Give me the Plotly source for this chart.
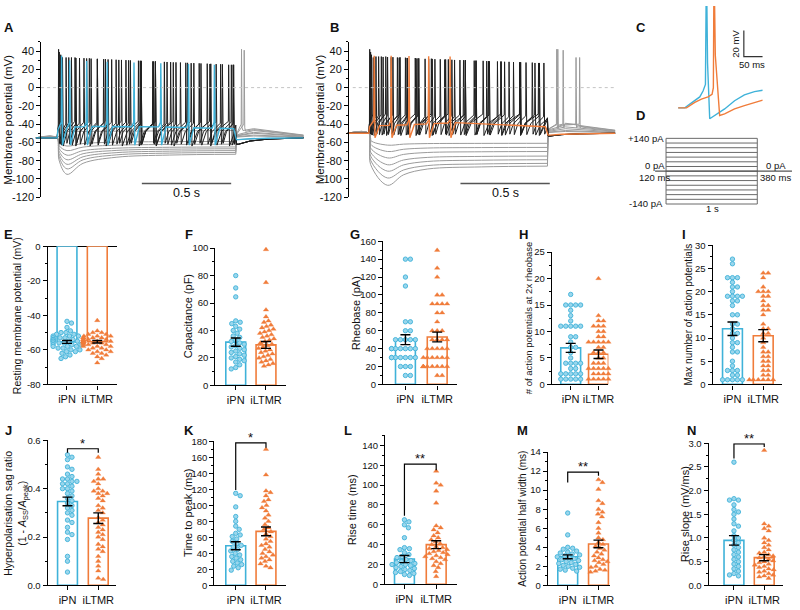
import numpy as np
import plotly.graph_objects as go

W, H = 800, 610
FONT = "Liberation Sans, Arial, Helvetica, sans-serif"
BLUE = "#3fb2d9"
BLUE_FILL = "#9ad6ec"
ORANGE = "#f07c3a"
GRAY = "#9b9b9b"
DARK = "#1f1f1f"
GROUPS = ["iPN", "iLTMR"]

# ---------------- A: iPN example traces ----------------
A_BASE = -55.0
A_HYP_MIN = [-95, -89, -84, -79, -74, -69, -64]
A_HYP_END = [-73, -71, -69, -67, -65, -62, -59]
A_HYP_HUMP = [10, 9, 8, 6, 5, 3, 2]
A_HYP_TMIN = 0.175
A_REBOUND_T = [[1.152], [1.167], [], [], [], [], []]
A_REBOUND_PK = [[42], [41], [], [], [], [], []]
A_TRAINS = [
    [0.128, 0.17, 0.225, 0.285, 0.345, 0.405, 0.465, 0.53, 0.59, 0.655, 0.72, 0.785, 0.85, 0.915, 0.98, 1.045, 1.105],
    [0.132, 0.185, 0.245, 0.31, 0.38, 0.45, 0.52, 0.59, 0.66, 0.735, 0.81, 0.885, 0.96, 1.035, 1.108],
    [0.14, 0.2, 0.27, 0.345, 0.425, 0.505, 0.585, 0.67, 0.755, 0.84, 0.925, 1.01, 1.095],
    [0.15, 0.22, 0.3, 0.39, 0.48, 0.575, 0.67, 0.77, 0.87, 0.975, 1.08],
]
A_BLUE = [0.145, 0.19, 0.285, 0.40, 0.55, 0.70, 0.855, 1.0]
A_BLUE_PLAT_T = [0.12, 0.3, 0.7, 1.12]
A_BLUE_PLAT_V = [-44, -42.5, -43, -45]
A_SUB_LEVEL = -48

# ---------------- B: iLTMR example traces ----------------
B_BASE = -50.0
B_HYP_MIN = [-107, -99, -91.5, -84.5, -77, -70, -63]
B_HYP_END = [-86, -83, -79, -75, -70, -65.5, -61]
B_HYP_HUMP = [11, 10, 9, 7, 5, 3, 2]
B_HYP_TMIN = 0.225
B_REBOUND_T = [[1.172, 1.208], [1.178, 1.28], [1.30], [], [], [], []]
B_REBOUND_PK = [[42, 41], [42, 33], [33], [], [], [], []]
B_TRAINS = [
    [0.125, 0.16, 0.2, 0.245, 0.29, 0.335, 0.385, 0.435, 0.49, 0.545, 0.6, 0.66, 0.72, 0.78, 0.84, 0.905, 0.97, 1.035, 1.1],
    [0.13, 0.175, 0.225, 0.28, 0.335, 0.395, 0.455, 0.52, 0.585, 0.65, 0.72, 0.79, 0.86, 0.93, 1.0, 1.075],
    [0.135, 0.19, 0.255, 0.325, 0.4, 0.475, 0.55, 0.63, 0.71, 0.795, 0.88, 0.965, 1.05],
    [0.145, 0.215, 0.295, 0.38, 0.47, 0.565, 0.66, 0.76, 0.86, 0.965, 1.07],
]
B_ORANGE = [0.15, 0.245, 0.345, 0.455, 0.575]
B_ORANGE_PLAT_T = [0.12, 0.3, 0.7, 1.12]
B_ORANGE_PLAT_V = [-42, -41, -37.5, -43]

AB_YTICKS = [40, 20, 0, -20, -40, -60, -80, -100, -120]

# ---------------- C: first spike overlay (ms, mV) ----------------
C_BLUE_T = [0.8, 18.4, 31.6, 44.7, 57.9, 66.6, 72.9, 75.5, 78.5, 84.2, 97.4, 123.7, 150, 176, 202.6, 224.5]
C_BLUE_V = [-64, -64, -61.1, -58.6, -55.7, -51.2, -46.3, 45, -30, -72.2, -69.7, -64.8, -58.6, -54.2, -51.7, -50.7]
C_ORANGE_T = [0.8, 22.8, 44.7, 62.3, 79.8, 90.4, 93.9, 95.6, 99, 110.5, 123.7, 150, 176, 202.6, 224.5]
C_ORANGE_V = [-64, -64, -59.9, -57.4, -55.7, -53.7, -48.7, 45, -24, -69.7, -68.5, -64.8, -62.3, -59.8, -58.1]

# ---------------- D: step protocol ----------------
D_LEVELS = [140, 120, 100, 80, 60, 40, 20, 0, -20, -40, -60, -80, -100, -120, -140]
D_T = [0.0, 0.12, 1.12, 1.5]

# ---------------- E-N: group data ----------------
E_IPN = [-43.5, -44.5, -47, -49, -50, -50, -51, -51, -52, -52, -52, -53, -53, -53, -54, -54, -54, -55, -55, -55,
         -55, -56, -56, -56, -57, -57, -57, -58, -58, -58, -59, -59, -60, -60, -61, -61, -62, -63, -64, -65]
E_ILTMR = [-43, -49, -50, -50, -51, -51, -52, -52, -52, -53, -53, -53, -53, -54, -54, -54, -54, -55, -55, -55, -55,
           -55, -56, -56, -56, -56, -57, -57, -57, -58, -58, -58, -59, -59, -60, -60, -61, -61, -62, -62, -63, -64,
           -65, -67.5]
E_MEAN = [-55.4, -55.3]
E_SEM = [0.85, 0.75]

F_IPN = [80, 71, 64.5, 47, 46, 45, 43, 41, 40, 38, 36, 35, 33, 32, 31, 30, 29, 28, 27, 26, 25, 24, 23, 22, 21, 20,
         19, 18, 17, 15, 13, 12]
F_ILTMR = [99, 75, 55, 50, 47, 46, 44, 43, 42, 41, 40, 39, 38, 37, 36, 35, 34, 33, 32, 31, 30, 29, 28, 27, 26, 25,
           24, 23, 22, 21, 20, 19, 18, 17, 16, 15, 14]
F_MEAN = [31.5, 29.5]
F_SEM = [3.0, 2.5]

G_IPN = [140, 140, 120, 110, 70, 70, 60, 60, 50, 50, 50, 50, 50, 40, 40, 40, 40, 40, 40, 40, 30, 30, 30, 30, 30, 30,
         30, 20, 20, 20, 10, 10]
G_ILTMR = [150, 130, 120, 100, 100, 90, 90, 90, 90, 80, 80, 70, 60, 60, 60, 50, 50, 50, 50, 40, 40, 40, 40, 40, 30,
           30, 30, 30, 30, 30, 20, 20, 20, 20, 20, 20, 20, 20, 10, 10]
G_MEAN = [50, 53]
G_SEM = [5.5, 5.5]

H_IPN = [17, 15, 15, 15, 15, 14, 13, 12, 11, 11, 11, 11, 11, 9, 9, 8, 7, 7, 6, 5, 4, 4, 4, 4, 3, 3, 2, 2, 2, 2, 2,
         1, 1, 1, 1, 1]
H_ILTMR = [20, 13, 12, 12, 11, 11, 11, 10, 10, 9, 9, 8, 8, 8, 8, 8, 7, 7, 6, 6, 6, 5, 5, 4, 4, 4, 3, 3, 3, 3, 3, 2,
           2, 2, 2, 1, 1, 1, 1, 1]
H_MEAN = [6.9, 5.7]
H_SEM = [0.85, 0.8]

I_IPN = [27, 26, 23, 23, 23, 22, 21, 21, 20, 19, 19, 19, 19, 18, 18, 17, 15, 15, 13, 13, 12, 11, 11, 10, 9, 9, 8,
         7, 7, 5, 4, 3, 3, 3, 2, 2, 1, 1, 1, 1, 1]
I_ILTMR = [24, 24, 23, 21, 20, 20, 20, 19, 19, 18, 17, 17, 16, 16, 15, 13, 12, 12, 11, 11, 10, 9, 8, 7, 7, 6, 6, 5,
           5, 4, 4, 3, 3, 2, 2, 1, 1, 1, 1, 1, 1]
I_MEAN = [12.0, 10.5]
I_SEM = [1.45, 1.3]

J_IPN = [0.54, 0.53, 0.52, 0.49, 0.48, 0.46, 0.45, 0.44, 0.44, 0.43, 0.43, 0.42, 0.42, 0.41, 0.40, 0.40, 0.39, 0.38,
         0.37, 0.36, 0.35, 0.34, 0.33, 0.32, 0.31, 0.30, 0.29, 0.27, 0.26, 0.24, 0.22, 0.21, 0.19, 0.12, 0.10, 0.055]
J_ILTMR = [0.53, 0.48, 0.46, 0.44, 0.44, 0.43, 0.42, 0.40, 0.39, 0.39, 0.38, 0.38, 0.37, 0.36, 0.35, 0.33, 0.32,
           0.31, 0.30, 0.28, 0.27, 0.26, 0.25, 0.24, 0.23, 0.22, 0.21, 0.20, 0.19, 0.17, 0.16, 0.15, 0.14, 0.12,
           0.10, 0.08, 0.06, 0.03, 0.025]
J_MEAN = [0.347, 0.278]
J_SEM = [0.018, 0.022]

K_IPN = [115, 112, 98, 86, 80, 74, 70, 65, 63, 61, 58, 55, 52, 50, 48, 45, 43, 40, 38, 36, 34, 32, 30, 28, 26, 24,
         22, 19]
K_ILTMR = [170, 138, 118, 116, 112, 107, 105, 100, 97, 93, 88, 84, 80, 76, 72, 70, 67, 64, 61, 58, 55, 52, 50, 48,
           45, 42, 40, 38, 36, 34, 32, 30, 27, 24, 22]
K_MEAN = [49.5, 67.5]
K_SEM = [5.0, 5.5]

L_IPN = [65, 63, 60, 57, 47, 37, 36, 35, 32, 30, 28, 27, 25, 24, 23, 22, 21, 20, 20, 19, 18, 17, 16, 15, 14, 13,
         12, 11, 10, 9]
L_ILTMR = [114, 102, 100, 94, 82, 59, 57, 55, 52, 49, 47, 45, 43, 41, 40, 38, 37, 36, 35, 34, 33, 32, 31, 30, 29,
           28, 27, 26, 25, 23, 21, 19, 17, 13, 8]
L_MEAN = [25.5, 40.0]
L_SEM = [3.6, 4.0]

M_IPN = [7.6, 5.3, 4.0, 3.9, 3.8, 3.6, 3.5, 3.4, 3.3, 3.2, 3.1, 3.0, 2.9, 2.8, 2.7, 2.6, 2.5, 2.4, 2.3, 2.2, 2.1,
         2.0, 1.9, 1.8, 1.7, 1.6, 1.5]
M_ILTMR = [11.1, 10.8, 10.1, 8.9, 8.6, 8.0, 7.7, 7.5, 7.2, 6.6, 6.0, 5.5, 5.0, 4.8, 4.5, 4.3, 4.1, 3.9, 3.7, 3.5,
           3.3, 3.1, 2.9, 2.7, 2.6, 2.5, 2.4, 2.2, 2.0, 1.9, 1.7, 1.6, 1.5, 1.4]
M_MEAN = [3.0, 4.35]
M_SEM = [0.2, 0.4]

N_IPN = [2.6, 1.83, 1.8, 1.8, 1.7, 1.6, 1.55, 1.5, 1.4, 1.3, 1.25, 1.15, 1.05, 1.0, 0.95, 0.9, 0.85, 0.8, 0.75,
         0.7, 0.65, 0.6, 0.55, 0.5, 0.45, 0.4, 0.35, 0.3, 0.25, 0.22, 0.2]
N_ILTMR = [2.85, 1.3, 1.25, 1.2, 1.15, 1.0, 0.95, 0.9, 0.85, 0.8, 0.75, 0.7, 0.68, 0.65, 0.62, 0.6, 0.58, 0.55,
           0.52, 0.5, 0.48, 0.45, 0.43, 0.4, 0.38, 0.35, 0.33, 0.3, 0.28, 0.25, 0.22, 0.2, 0.18, 0.15]
N_MEAN = [0.95, 0.585]
N_SEM = [0.1, 0.065]

# significance: (bracket top, left leg end, right leg end, label)
SIG = {
    "J": (0.565, 0.548, 0.548, "*"),
    "K": (178, 119, 172, "*"),
    "L": (121, 69, 115, "**"),
    "M": (11.9, 10.8, 11.5, "**"),
    "N": (2.985, 2.68, 2.92, "**"),
}

DATA = {
    "E": (E_IPN, E_ILTMR, E_MEAN, E_SEM), "F": (F_IPN, F_ILTMR, F_MEAN, F_SEM),
    "G": (G_IPN, G_ILTMR, G_MEAN, G_SEM), "H": (H_IPN, H_ILTMR, H_MEAN, H_SEM),
    "I": (I_IPN, I_ILTMR, I_MEAN, I_SEM), "J": (J_IPN, J_ILTMR, J_MEAN, J_SEM),
    "K": (K_IPN, K_ILTMR, K_MEAN, K_SEM), "L": (L_IPN, L_ILTMR, L_MEAN, L_SEM),
    "M": (M_IPN, M_ILTMR, M_MEAN, M_SEM), "N": (N_IPN, N_ILTMR, N_MEAN, N_SEM),
}

TITLES = {
    "E": "Resting membrane potential (mV)", "F": "Capacitance (pF)", "G": "Rheobase (pA)",
    "H": "# of action potentials at 2x rheobase", "I": "Max number of action potentials",
    "J": "Hyperpolarisation sag ratio<br>(1 - <i>A</i><sub>SS</sub>/<i>A</i><sub>peak</sub>)",
    "K": "Time to peak (ms)", "L": "Rise time (ms)", "M": "Action potential half width (ms)",
    "N": "Rise slope (mV/ms)",
}

# ---------------- layout geometry (pixels) ----------------
GEOM = {
    "E": dict(xl=48, xr=118, c0=67.5, c1=98, yt=245, yb=386, yr=(-80, 0), dt=20, mn=10, tx=17, ts=10.5, lx=9, ly=233),
    "F": dict(xl=217, xr=288, c0=237.5, c1=268, yt=247, yb=387, yr=(0, 100), dt=20, mn=10, tx=189, ts=11, lx=190, ly=233),
    "G": dict(xl=386, xr=460, c0=408.5, c1=440.5, yt=240, yb=386, yr=(0, 160), dt=20, mn=10, tx=359, ts=11, lx=358, ly=233),
    "H": dict(xl=556, xr=613, c0=575, c1=603, yt=251, yb=386, yr=(0, 25), dt=5, mn=2.5, tx=532, ts=9.5, lx=527, ly=233),
    "I": dict(xl=718, xr=788, c0=738, c1=769, yt=244, yb=386, yr=(0, 30), dt=5, mn=2.5, tx=694, ts=10, lx=689, ly=233),
    "J": dict(xl=48, xr=117, c0=68, c1=99, yt=443, yb=591, yr=(0, 0.6), dt=0.2, mn=0.1, fmt=".1f", tx=16, ts=10.5, lx=9, ly=433),
    "K": dict(xl=216, xr=288, c0=237.5, c1=268, yt=444, yb=591, yr=(0, 180), dt=20, mn=10, tx=190, ts=11, lx=190, ly=433),
    "L": dict(xl=388, xr=460, c0=407.5, c1=439.5, yt=438, yb=590, yr=(0, 150), dt=20, mn=10, tx=355, ts=11, lx=351, ly=433),
    "M": dict(xl=552, xr=615, c0=572, c1=603, yt=455, yb=591, yr=(0, 14), dt=2, mn=1, tx=527, ts=10, lx=526, ly=433),
    "N": dict(xl=714, xr=789, c0=739.5, c1=770, yt=446, yb=591, yr=(0, 3), dt=0.5, mn=0.25, fmt=".1f", tx=690, ts=11, lx=697, ly=433),
}


def fx(px):
    return px / W


def fy(py):
    return 1 - py / H


def xr(i):
    return "x" if i == 1 else f"x{i}"


def yr(i):
    return "y" if i == 1 else f"y{i}"


def xk(i):
    return "xaxis" if i == 1 else f"xaxis{i}"


def yk(i):
    return "yaxis" if i == 1 else f"yaxis{i}"


traces = []
ann = []
shp = []
layout = dict(width=W, height=H, autosize=False, margin=dict(l=0, r=0, t=0, b=0), paper_bgcolor="white",
              plot_bgcolor="rgba(0,0,0,0)", showlegend=False,
              font=dict(family=FONT, size=11, color="#111111"))


def add_line(i, t, v, color, width=1.0, shape="linear"):
    traces.append(go.Scatter(x=t, y=v, mode="lines", line=dict(color=color, width=width, shape=shape),
                             xaxis=xr(i), yaxis=yr(i), hoverinfo="skip"))


def paper_text(txt, x, y, size, xa="center", angle=0):
    ann.append(dict(x=fx(x), y=fy(y), xref="paper", yref="paper", text=txt, showarrow=False,
                    font=dict(size=size), xanchor=xa, yanchor="middle", textangle=angle))


def hyper(i, base, vmin, vend, tmin, hump, spikes, pks):
    t1 = [0.0, 0.12, 0.13, tmin, tmin + 0.09, 0.45, 0.75, 1.12]
    v1 = [base, base, base + 0.6 * (vmin - base), vmin, vend + 0.45 * (vmin - vend),
          vend + 0.15 * (vmin - vend), vend + 0.04 * (vmin - vend), vend]
    add_line(i, t1, v1, GRAY, 1.0, "spline")
    pts = [(1.12, vend), (1.1235, base + 0.4 * hump), (1.22, base + hump), (1.33, base + 0.7 * hump),
           (1.42, base + 0.45 * hump), (1.5, base + 0.3 * hump)]
    for ts, pk in zip(spikes, pks):
        pts += [(ts - 0.002, -40), (ts, pk), (ts + 0.003, -44), (ts + 0.008, base + 0.8 * hump)]
    pts.sort()
    add_line(i, [p[0] for p in pts], [p[1] for p in pts], GRAY, 1.0)


def train(i, times, base, trough, thr, pk_first, pk_a, pk_b, dip, color, width=1.0, plateau=None):
    n = len(times)
    t = [0.0, 0.12, 0.1235]
    v = [base, base, base + 0.5 * (thr - base)]

    def plat(x):
        return float(np.interp(x, plateau[0], plateau[1]))

    for k, ts in enumerate(times):
        pk = pk_first if k == 0 else pk_a + (pk_b - pk_a) * (k - 1) / max(n - 2, 1)
        t += [ts - 0.0018, ts, ts + 0.0022, ts + 0.0045]
        v += [thr, pk, -15, trough]
        last = k + 1 >= n
        nxt = 1.12 if last else times[k + 1]
        if plateau is None:
            if not last:
                t.append(ts + 0.0045 + 0.3 * (nxt - ts))
                v.append(trough + 0.6 * (thr - trough))
            else:
                if ts + 0.03 < 1.112:
                    t += [ts + 0.03, 1.12]
                    v += [trough + 0.5 * (thr - trough), thr - 4]
                else:
                    t.append(1.12)
                    v.append(trough + 0.4 * (thr - trough))
        else:
            end = 1.108 if last else nxt - 0.012
            t += [ts + 0.03, max(ts + 0.031, end)]
            v += [plat(ts + 0.03), plat(end)]
    t += [1.1235, 1.135, 1.2, 1.3, 1.5]
    v += [base - dip, base - dip, base - 0.5 * dip, base - 0.2 * dip, base]
    add_line(i, t, v, color, width)


def trace_axes(i, xl, xr_, axis_px, title_x, title):
    layout[xk(i)] = dict(domain=[fx(xl), fx(xr_)], range=[0, 1.5], visible=False, anchor=yr(i), fixedrange=True)
    layout[yk(i)] = dict(domain=[fy(195), fy(36.7)], range=[-120, 50], anchor="free", position=fx(axis_px),
                         showline=True, linecolor="black", linewidth=1.2, ticks="outside", ticklen=4,
                         tickwidth=1.2, tickcolor="black", tickvals=AB_YTICKS,
                         ticktext=[str(v) for v in AB_YTICKS],
                         minor=dict(ticks="outside", ticklen=2, dtick=10, tick0=0, tickcolor="black"),
                         showgrid=False, zeroline=False, tickfont=dict(size=11), fixedrange=True)
    paper_text(title, title_x, 116, 11.5, angle=-90)
    shp.append(dict(type="line", xref=xr(i), yref=yr(i), x0=0.03, x1=1.5, y0=0, y1=0,
                    line=dict(color="#c4c4c4", width=1, dash="dot")))


# ---- A ----
trace_axes(1, 36, 306, 40.7, 8, "Membrane potential (mV)")
for vmin, vend, hump, sp, pk in zip(A_HYP_MIN, A_HYP_END, A_HYP_HUMP, A_REBOUND_T, A_REBOUND_PK):
    hyper(1, A_BASE, vmin, vend, A_HYP_TMIN, hump, sp, pk)
add_line(1, [0, 0.12, 0.16, 1.12, 1.1235, 1.3, 1.5],
         [A_BASE, A_BASE, A_SUB_LEVEL, A_SUB_LEVEL + 1, A_BASE - 2, A_BASE - 0.5, A_BASE], GRAY)
for k, tr in enumerate(A_TRAINS):
    train(1, tr, A_BASE, -61 - k, -40 + k, 42 - 3 * k, 33, 25, 7, DARK)
train(1, A_BLUE, A_BASE, -63, -38, 35, 30, 25, 2, BLUE, 1.4, plateau=(A_BLUE_PLAT_T, A_BLUE_PLAT_V))
shp.append(dict(type="line", xref="x", yref="y", x0=0.594, x1=1.094, y0=-105, y1=-105,
                line=dict(color="#555555", width=1.5)))
ann.append(dict(x=0.844, y=-106, xref="x", yref="y", text="0.5 s", showarrow=False, font=dict(size=12.5),
                yanchor="top"))

# ---- B ----
trace_axes(2, 350, 620, 350.8, 322, "Membrane potential (mV)")
for vmin, vend, hump, sp, pk in zip(B_HYP_MIN, B_HYP_END, B_HYP_HUMP, B_REBOUND_T, B_REBOUND_PK):
    hyper(2, B_BASE, vmin, vend, B_HYP_TMIN, hump, sp, pk)
for k, tr in enumerate(B_TRAINS):
    train(2, tr, B_BASE, -51 - 0.5 * k, -32 + k, 42 - 3 * k, 34, 27, 3, DARK)
train(2, B_ORANGE, B_BASE, -55, -36, 35, 35, 34, 2, ORANGE, 1.4, plateau=(B_ORANGE_PLAT_T, B_ORANGE_PLAT_V))
shp.append(dict(type="line", xref="x2", yref="y2", x0=0.633, x1=1.133, y0=-105, y1=-105,
                line=dict(color="#555555", width=1.5)))
ann.append(dict(x=0.883, y=-106, xref="x2", yref="y2", text="0.5 s", showarrow=False, font=dict(size=12.5),
                yanchor="top"))

# ---- C ----
layout[xk(3)] = dict(domain=[fx(683), fx(768.5)], range=[0, 224.5], visible=False, anchor=yr(3))
layout[yk(3)] = dict(domain=[fy(118.8), fy(0)], range=[-75, 13], visible=False, anchor=xr(3))
add_line(3, C_BLUE_T, C_BLUE_V, BLUE, 1.4)
add_line(3, C_ORANGE_T, C_ORANGE_V, ORANGE, 1.4)
shp.append(dict(type="path", xref="x3", yref="y3", path="M 174.5,-5.5 L 174.5,-25.3 L 224.5,-25.3",
                line=dict(color="#333333", width=1.2)))
paper_text("20 mV", 741, 38, 9.5, angle=-90)
paper_text("50 ms", 758, 60, 9.5)

# ---- D ----
layout[xk(4)] = dict(domain=[fx(658.2), fx(799.8)], range=[-0.02, 1.52], visible=False, anchor=yr(4))
layout[yk(4)] = dict(domain=[fy(204), fy(133)], range=[-148.4, 148.4], visible=False, anchor=xr(4))
dx, dy = [], []
for lv in D_LEVELS:
    dx += [D_T[1], D_T[2], None]
    dy += [lv, lv, None]
dx += [D_T[1], D_T[1], None, D_T[2], D_T[2]]
dy += [D_LEVELS[-1], D_LEVELS[0], None, D_LEVELS[-1], D_LEVELS[0]]
add_line(4, dx, dy, "#6a6a6a", 1.0)
add_line(4, [D_T[0], D_T[3]], [0, 0], "#555555", 1.3)
for txt, x, y, xa in [("+140 pA", 671, 135, "right"), ("0 pA", 660, 163, "center"),
                      ("120 ms", 659, 175, "center"), ("-140 pA", 670, 201, "right"),
                      ("1 s", 718, 207, "center"), ("0 pA", 782, 163, "center"),
                      ("380 ms", 781, 175, "center")]:
    paper_text(txt, x, y, 9.5, xa=xa)


# ---- E-N ----
def swarm(vals, ppu, d=4.7, step=0.5):
    order = sorted(range(len(vals)), key=lambda j: -vals[j])
    cands = [0.0]
    k = 1
    while k * step <= 14:
        cands += [k * step, -k * step]
        k += 1
    placed = []
    offs = [0.0] * len(vals)
    for j in order:
        y = vals[j] * ppu
        best = cands[-1]
        for c in cands:
            if all((c - px) ** 2 + (y - py) ** 2 >= d * d for px, py in placed):
                best = c
                break
        placed.append((best, y))
        offs[j] = best
    return offs


for n, key in enumerate("EFGHIJKLMN"):
    i = 5 + n
    g = GEOM[key]
    ipn, iltmr, mean, sem = DATA[key]
    ppc = g["c1"] - g["c0"]
    ppu = (g["yb"] - g["yt"]) / (g["yr"][1] - g["yr"][0])
    layout[xk(i)] = dict(domain=[fx(g["xl"]), fx(g["xr"])],
                         range=[(g["xl"] - g["c0"]) / ppc, (g["xr"] - g["c0"]) / ppc],
                         anchor=yr(i), showline=True, linecolor="black", linewidth=1.2, ticks="outside",
                         ticklen=4, tickwidth=1.2, tickcolor="black", tickvals=[0, 1], ticktext=GROUPS,
                         tickangle=0, tickfont=dict(size=11), showgrid=False, zeroline=False, fixedrange=True)
    ya = dict(domain=[fy(g["yb"]), fy(g["yt"])], range=list(g["yr"]), anchor=xr(i), showline=True,
              linecolor="black", linewidth=1.2, ticks="outside", ticklen=4, tickwidth=1.2, tickcolor="black",
              minor=dict(ticks="outside", ticklen=2, dtick=g["mn"], tick0=0, tickcolor="black", tickwidth=1),
              showgrid=False, zeroline=False, tickfont=dict(size=9.5), fixedrange=True)
    if key == "E":
        tv = [0, -20, -40, -60, -80]
        ya.update(tickvals=tv, ticktext=[str(v) for v in tv], zeroline=True, zerolinecolor="black",
                  zerolinewidth=1.2)
    else:
        ya.update(dtick=g["dt"], tick0=0)
        if "fmt" in g:
            ya["tickformat"] = g["fmt"]
    layout[yk(i)] = ya

    bw = 20.0 / ppc
    traces.append(go.Bar(x=[0, 1], y=mean, width=bw, xaxis=xr(i), yaxis=yr(i), hoverinfo="skip",
                         marker=dict(color="white", line=dict(color=[BLUE, ORANGE], width=1.6))))
    o1 = swarm(ipn, ppu)
    o2 = swarm(iltmr, ppu)
    traces.append(go.Scatter(x=[o / ppc for o in o1], y=ipn, mode="markers", xaxis=xr(i), yaxis=yr(i),
                             cliponaxis=False, hoverinfo="skip",
                             marker=dict(symbol="circle", size=4.4, color=BLUE_FILL,
                                         line=dict(color=BLUE, width=0.9))))
    traces.append(go.Scatter(x=[1 + o / ppc for o in o2], y=iltmr, mode="markers", xaxis=xr(i), yaxis=yr(i),
                             cliponaxis=False, hoverinfo="skip",
                             marker=dict(symbol="triangle-up", size=4.8, color=ORANGE,
                                         line=dict(color=ORANGE, width=0.3))))
    traces.append(go.Scatter(x=[0, 1], y=mean, mode="markers", xaxis=xr(i), yaxis=yr(i), hoverinfo="skip",
                             marker=dict(size=1, color="rgba(0,0,0,0)"),
                             error_y=dict(type="data", array=sem, visible=True, color="black", thickness=1.4,
                                          width=5)))
    if key in SIG:
        top, lleg, rleg, lab = SIG[key]
        shp.append(dict(type="path", xref=xr(i), yref=yr(i),
                        path=f"M 0,{lleg} L 0,{top} L 1,{top} L 1,{rleg}",
                        line=dict(color="black", width=1.2)))
        ann.append(dict(x=0.5, y=top, xref=xr(i), yref=yr(i), text=lab, showarrow=False,
                        font=dict(size=13), yanchor="bottom", yshift=-4))
    paper_text(TITLES[key], g["tx"], (g["yt"] + g["yb"]) / 2, g["ts"], angle=-90)
    paper_text(f"<b>{key}</b>", g["lx"], g["ly"], 13)

for lab, x, y in [("A", 9, 22), ("B", 337, 22), ("C", 646, 22), ("D", 645, 112)]:
    paper_text(f"<b>{lab}</b>", x, y, 13)

layout["annotations"] = ann
layout["shapes"] = shp
fig = go.Figure(data=traces, layout=layout)
fig.write_html(
    "out.html",
    config={"responsive": False, "displayModeBar": False},
    post_script="document.documentElement.style.margin='0';document.body.style.margin='0';"
                "document.body.style.padding='0';document.documentElement.style.overflow='hidden';"
                "document.body.style.overflow='hidden';",
)
